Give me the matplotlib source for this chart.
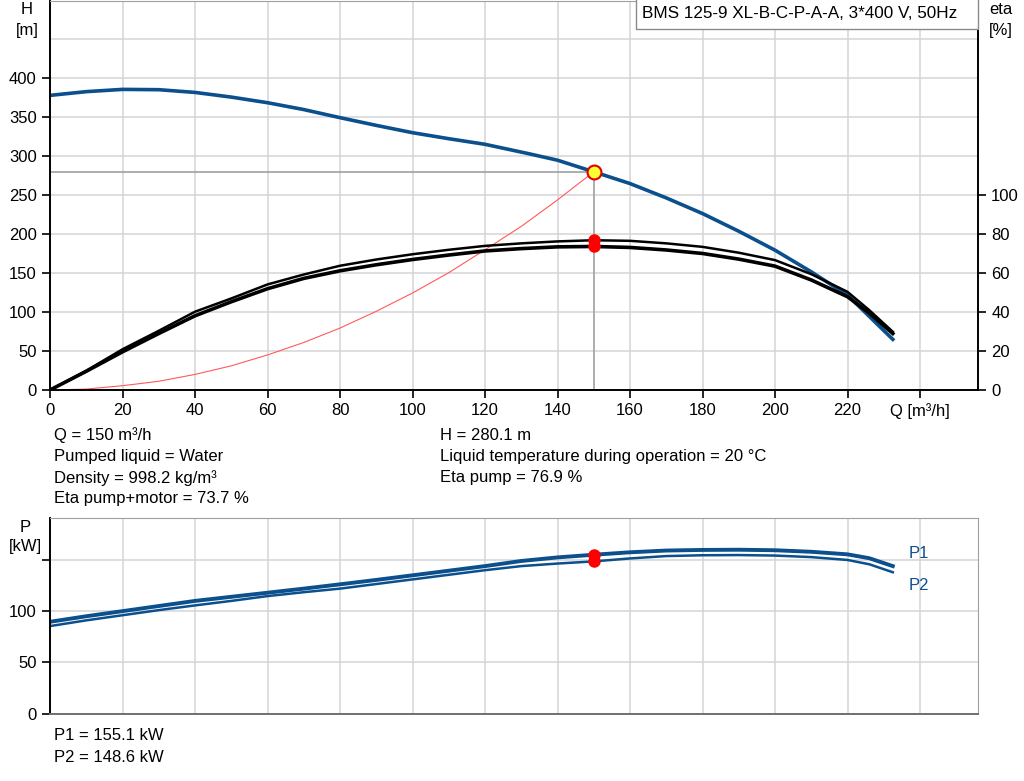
import matplotlib.pyplot as plt
from matplotlib.patches import Rectangle

plt.rcParams['font.family'] = ['Liberation Sans', 'DejaVu Sans']

# Flow rates (m3/h) and readings
q_head = [0, 10, 20, 30, 40, 50, 60, 70, 80, 90, 100, 110, 120, 132, 140, 150,
          160, 170, 180, 190, 200, 210, 220, 232.5]
head = [378.2, 383, 385.9, 385.5, 382, 376, 368.8, 360, 349.6, 339.7, 330.3, 322.6, 315.4, 303.4, 295, 280.1,
        265, 246.6, 226.5, 203.8, 179.5, 151.7, 121.8, 65]

q_sys = [0, 10, 20, 30, 40, 50, 60, 70, 80, 90, 100, 110, 120, 130, 140, 150]
head_sys = [0, 1.2, 5.5, 11.2, 20, 31, 45, 61, 79.5, 101, 124.5, 150.6, 180, 210, 244, 280.1]

q_eta = [0, 10, 20, 30, 40, 50, 60, 70, 80, 90, 100, 110, 120, 130, 140, 150,
         160, 170, 180, 190, 200, 210, 220, 226, 232.5]
eta_pump = [0, 9.9, 20.9, 30.4, 40.2, 47, 54.2, 59.3, 63.8, 67, 69.7, 72, 74, 75.3, 76.3, 76.9,
            76.6, 75.3, 73.5, 70.5, 66.7, 59.5, 50.4, 41, 29.9]
eta_total = [0, 9.6, 19.6, 29, 38.1, 45.3, 52, 57.3, 61.2, 64.3, 67, 69.3, 71.4, 72.6, 73.5, 73.7,
             73.2, 71.9, 70.1, 67.2, 63.6, 56.5, 47.9, 39.5, 29]

q_pow = [0, 10, 20, 30, 40, 50, 60, 70, 80, 90, 100, 110, 120, 130, 140, 150,
         160, 170, 180, 190, 200, 210, 220, 226, 232.5]
p1 = [89.6, 95, 100, 105, 110, 114, 118, 122, 126.2, 130.5, 135, 139.5, 144, 149, 152.5, 155.1,
      157.5, 159.2, 159.8, 160, 159.5, 158, 155.5, 151.7, 144]
p2 = [85.4, 91, 96, 101, 105.6, 110, 114.7, 118.5, 122, 126.5, 131, 135.5, 140, 144, 146.5, 148.6,
      151.5, 153.8, 154.6, 154.8, 154.3, 152.8, 150, 145.8, 138]

duty_q = 150
duty_h = 280.1

x_ticks = [0, 20, 40, 60, 80, 100, 120, 140, 160, 180, 200, 220, 240]
x_labels = ['0', '20', '40', '60', '80', '100', '120', '140', '160', '180', '200', '220', 'Q [m³/h]']

blue = '#0b4f8c'
grid_c = '#d4d4d8'
fs = 12
W, H = 1024, 781

fig = plt.figure(figsize=(W / 100, H / 100), dpi=100)

def px_axes(left, top, right, bottom):
    return fig.add_axes([left / W, 1 - bottom / H, (right - left) / W, (bottom - top) / H])

def ftext(x, y, s, **kw):
    fig.text(x / W, 1 - y / H, s, va='center', fontsize=fs, **kw)

# ---- head / efficiency chart
ax = px_axes(50, 0.5, 978, 390)
ax.set_xlim(0, 256)
ax.set_ylim(0, 500)
ax.set_xticks(x_ticks)
ax.set_xticklabels(x_labels)
ax.set_yticks([0, 50, 100, 150, 200, 250, 300, 350, 400])
ax.grid(True, color=grid_c, lw=1.1)
ax.axhline(450, color=grid_c, lw=1.1, zorder=0)
ax.set_axisbelow(True)
ax.tick_params(labelsize=fs, length=6, width=1.2, colors='black')
ax.spines['top'].set_color('#a0a0a0')
ax.spines['right'].set_visible(False)
for s in ['left', 'bottom']:
    ax.spines[s].set_linewidth(1.4)

ax.plot(q_sys, head_sys, color='#ff5a5a', lw=0.8)
ax.plot([0, duty_q], [duty_h, duty_h], color='#a0a0a0', lw=1.2)
ax.plot([duty_q, duty_q], [0, duty_h], color='#a0a0a0', lw=1.2)
ax.plot(q_head, head, color=blue, lw=2.6)

ax2 = ax.twinx()
ax2.set_ylim(0, 200)
ax2.set_yticks([0, 20, 40, 60, 80, 100])
ax2.tick_params(labelsize=fs, length=6, width=1.2)
ax2.spines['right'].set_linewidth(1.4)
ax2.spines['top'].set_visible(False)
ax2.spines['left'].set_visible(False)
ax2.spines['bottom'].set_visible(False)
ax2.plot(q_eta, eta_pump, color='black', lw=1.8)
ax2.plot(q_eta, eta_total, color='black', lw=2.6)
ax2.plot([duty_q, duty_q], [76.9, 73.7], 'o', color='#ff0000', ms=9, mec='none')
ax2.plot([duty_q], [duty_h * 0.4], 'o', color='#ffff33', ms=10, mec='#e00000', mew=1.5, zorder=5)

ftext(27, 10, 'H', ha='center')
ftext(27, 30, '[m]', ha='center')
ftext(1001, 10, 'eta', ha='center')
ftext(1001, 30, '[%]', ha='center')

fig.patches.append(Rectangle((636 / W, 1 - 28.5 / H), 342 / W, 30 / H, transform=fig.transFigure,
                             fc='white', ec='#8a8a8a', lw=1, zorder=10))
fig.text(642 / W, 1 - 14 / H, 'BMS 125-9 XL-B-C-P-A-A, 3*400 V, 50Hz', ha='left', va='center',
         fontsize=12.3, zorder=11)

info_left = ['Q = 150 m³/h', 'Pumped liquid = Water', 'Density = 998.2 kg/m³', 'Eta pump+motor = 73.7 %']
info_right = ['H = 280.1 m', 'Liquid temperature during operation = 20 °C', 'Eta pump = 76.9 %']
for i, t in enumerate(info_left):
    ftext(54, 435 + 21.3 * i, t, ha='left')
for i, t in enumerate(info_right):
    ftext(440, 435 + 21.3 * i, t, ha='left')

# ---- power chart
axp = px_axes(50, 518, 978, 713.5)
axp.set_xlim(0, 256)
axp.set_ylim(0, 191)
axp.set_xticks(x_ticks[1:])
axp.set_yticks([0, 50, 100, 150])
axp.set_yticklabels(['0', '50', '100', ''])
axp.grid(True, color=grid_c, lw=1.1)
axp.set_axisbelow(True)
axp.tick_params(axis='x', length=0, labelbottom=False)
axp.tick_params(axis='y', labelsize=fs, length=6, width=1.2)
axp.spines['top'].set_color('#a0a0a0')
axp.spines['right'].set_color('#a0a0a0')
axp.spines['left'].set_linewidth(1.4)
axp.spines['bottom'].set_color('#707070')
axp.spines['bottom'].set_linewidth(1.4)

axp.plot(q_pow, p1, color=blue, lw=2.8)
axp.plot(q_pow, p2, color=blue, lw=1.8)
axp.plot([duty_q, duty_q], [155.1, 148.6], 'o', color='#ff0000', ms=9, mec='none')
axp.text(237, 156, 'P1', color=blue, fontsize=fs, va='center')
axp.text(237, 125.5, 'P2', color=blue, fontsize=fs, va='center')

ftext(25, 527, 'P', ha='center')
ftext(25, 547, '[kW]', ha='center')

ftext(54, 736, 'P1 = 155.1 kW', ha='left')
ftext(54, 757, 'P2 = 148.6 kW', ha='left')

fig.savefig('out.png', dpi=100)
